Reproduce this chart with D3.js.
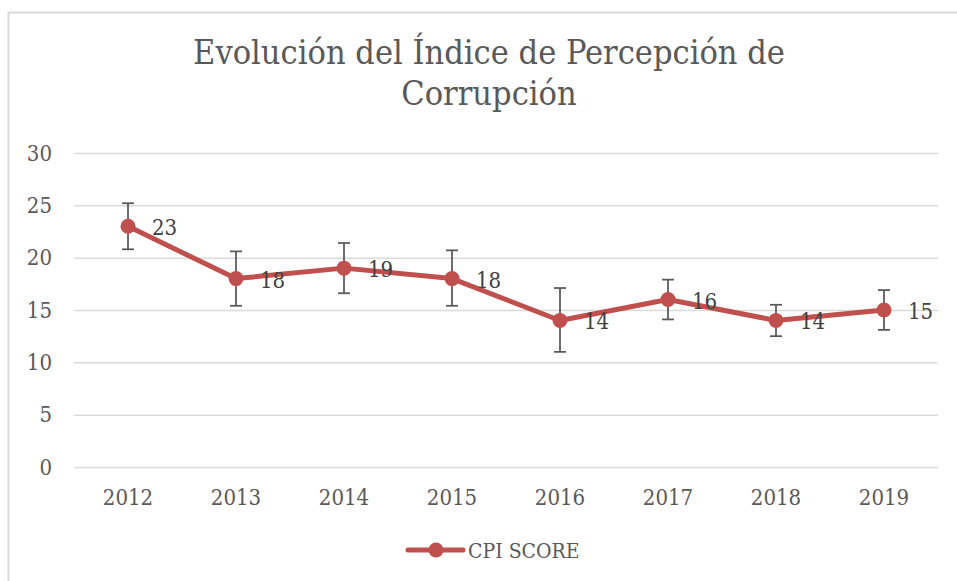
<!DOCTYPE html>
<html>
<head>
<meta charset="utf-8">
<script src="https://cdn.jsdelivr.net/npm/d3@7"></script>
<style>
  body { margin: 0; background: #fff; }
  svg { display: block; }
</style>
</head>
<body>
<div id="chart-container"></div>
<script>
const width = 957, height = 581;
const margin = { top: 153, left: 74, right: 18, bottom: 114 };
const lineColor = "#c0504d";
const textColor = "#595959";
const font = "'DejaVu Serif Condensed', 'DejaVu Serif', serif";

// data
const years = ["2012", "2013", "2014", "2015", "2016", "2017", "2018", "2019"];
const scores = [23, 18, 19, 18, 14, 16, 14, 15];
const errUpper = [25.2, 20.6, 21.4, 20.7, 17.1, 17.9, 15.5, 16.9];
const errLower = [20.8, 15.4, 16.6, 15.4, 11.0, 14.1, 12.5, 13.1];
const yTicks = [0, 5, 10, 15, 20, 25, 30];
const titleLines = ["Evolución del Índice de Percepción de", "Corrupción"];
const seriesName = "CPI SCORE";

const data = years.map((y, i) => ({ year: y, value: scores[i], hi: errUpper[i], lo: errLower[i] }));

const svg = d3.select("#chart-container").append("svg")
  .attr("width", width).attr("height", height);

// outer chart border (clipped on right/bottom like the original)
svg.append("path")
  .attr("d", `M8.5,${height} V12.5 H${width}`)
  .attr("fill", "none").attr("stroke", "#d9d9d9").attr("stroke-width", 2);

const x = d3.scaleBand()
  .domain(years)
  .range([margin.left, width - margin.right - 1]);
const y = d3.scaleLinear()
  .domain([0, 30])
  .range([height - margin.bottom, margin.top]);

// title
svg.append("g").selectAll("text")
  .data(titleLines)
  .enter().append("text")
  .attr("x", 489).attr("y", (d, i) => 64 + i * 41)
  .attr("text-anchor", "middle")
  .attr("fill", textColor)
  .style("font", `34px ${font}`)
  .text(d => d);

// gridlines + y labels
const yAxis = g => g
  .attr("transform", `translate(${margin.left},0)`)
  .call(d3.axisLeft(y).tickValues(yTicks).tickSize(-(x.range()[1] - margin.left)).tickPadding(22))
  .call(g => g.select(".domain").remove())
  .call(g => g.selectAll(".tick line").attr("stroke", "#d9d9d9").attr("stroke-width", 1.5))
  .call(g => g.selectAll(".tick text").attr("fill", textColor).style("font", `22px ${font}`));
svg.append("g").call(yAxis);

// x labels
const xAxis = g => g
  .attr("transform", `translate(0,${height - margin.bottom})`)
  .call(d3.axisBottom(x).tickSize(0))
  .call(g => g.select(".domain").remove())
  .call(g => g.selectAll(".tick text")
    .attr("y", 38).attr("dy", null)
    .attr("fill", textColor).style("font", `22px ${font}`));
svg.append("g").call(xAxis);

const cx = d => x(d.year) + x.bandwidth() / 2;

// error bars
const eb = svg.append("g").attr("stroke", "#595959").attr("stroke-width", 1.75);
eb.selectAll(".stem").data(data).enter().append("line")
  .attr("x1", cx).attr("x2", cx)
  .attr("y1", d => y(d.hi)).attr("y2", d => y(d.lo));
eb.selectAll(".capHi").data(data).enter().append("line")
  .attr("x1", d => cx(d) - 6).attr("x2", d => cx(d) + 6)
  .attr("y1", d => y(d.hi)).attr("y2", d => y(d.hi));
eb.selectAll(".capLo").data(data).enter().append("line")
  .attr("x1", d => cx(d) - 6).attr("x2", d => cx(d) + 6)
  .attr("y1", d => y(d.lo)).attr("y2", d => y(d.lo));

// line
const line = d3.line().x(cx).y(d => y(d.value));
svg.append("path")
  .datum(data)
  .attr("d", line)
  .attr("fill", "none")
  .attr("stroke", lineColor)
  .attr("stroke-width", 5)
  .attr("stroke-linejoin", "round");

svg.append("g").selectAll("circle")
  .data(data)
  .enter().append("circle")
  .attr("cx", cx).attr("cy", d => y(d.value))
  .attr("r", 7.5)
  .attr("fill", lineColor);

// data labels
svg.append("g").selectAll("text")
  .data(data)
  .enter().append("text")
  .attr("x", d => cx(d) + 24)
  .attr("y", d => y(d.value) + 9)
  .attr("fill", "#404040")
  .style("font", `22px ${font}`)
  .text(d => d.value);

// legend
const lg = svg.append("g").attr("transform", "translate(408,550)");
lg.append("line").attr("x1", 0).attr("x2", 55).attr("y1", 0).attr("y2", 0)
  .attr("stroke", lineColor).attr("stroke-width", 5).attr("stroke-linecap", "round");
lg.append("circle").attr("cx", 28).attr("cy", 0).attr("r", 7.5).attr("fill", lineColor);
lg.append("text").attr("x", 60).attr("y", 8)
  .attr("fill", textColor)
  .style("font", `21px ${font}`)
  .text(seriesName);
</script>
</body>
</html>
